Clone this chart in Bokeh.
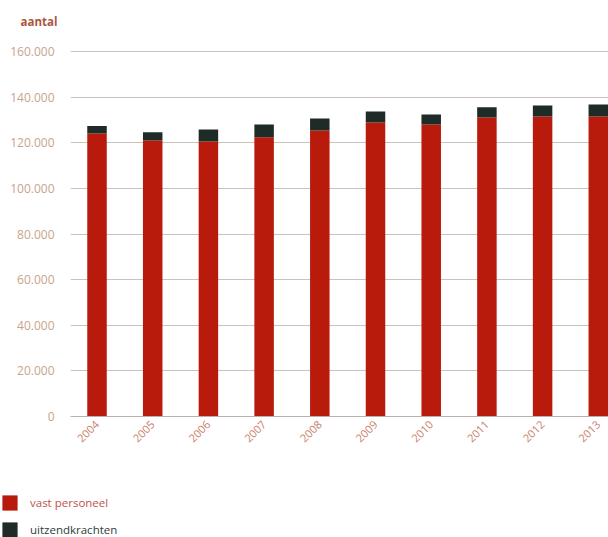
from bokeh.plotting import figure
from bokeh.models import ColumnDataSource, Range1d, FixedTicker, Legend, LegendItem
from bokeh.layouts import column, row
from bokeh.embed import file_html
from bokeh.resources import INLINE

years = ["2004", "2005", "2006", "2007", "2008", "2009", "2010", "2011", "2012", "2013"]
vast_personeel = [124100, 121000, 120600, 122400, 125400, 128900, 128000, 131100, 131500, 131500]
uitzendkrachten = [3200, 3600, 5200, 5600, 5200, 4800, 4400, 4500, 4800, 5300]
y_ticks = [0, 20000, 40000, 60000, 80000, 100000, 120000, 140000, 160000]
y_tick_labels = ["0", "20.000", "40.000", "60.000", "80.000", "100.000", "120.000", "140.000", "160.000"]
series_labels = ["vast personeel", "uitzendkrachten"]

RED = "#b81a0c"
DARK = "#1f2b27"
FONT = "Open Sans"

x = list(range(len(years)))
source = ColumnDataSource(dict(x=x, vast=vast_personeel, uitz=uitzendkrachten))

p = figure(width=608, height=480, output_backend="svg", toolbar_location=None,
           x_range=Range1d(-0.476, 9.183), y_range=Range1d(0, 165700),
           min_border_left=70, min_border_right=0, min_border_top=38, min_border_bottom=64,
           title="aantal")
p.outline_line_color = None

p.title.text_font = FONT
p.title.text_font_size = "11.5px"
p.title.text_font_style = "bold"
p.title.text_color = "#a9563f"
p.title.align = "left"
p.title.offset = -50
p.title.standoff = 20

renderers = p.vbar_stack(["vast", "uitz"], x="x", width=0.35, color=[RED, DARK],
                         source=source, line_color=None)

p.yaxis.ticker = FixedTicker(ticks=y_ticks)
p.yaxis.major_label_overrides = {t: l for t, l in zip(y_ticks, y_tick_labels)}
p.yaxis.axis_line_color = None
p.yaxis.major_tick_line_color = None
p.yaxis.minor_tick_line_color = None
p.yaxis.major_label_standoff = 10
p.yaxis.major_label_text_font = FONT
p.yaxis.major_label_text_font_size = "12px"
p.yaxis.major_label_text_color = "#c8a48c"

p.xaxis.ticker = FixedTicker(ticks=x)
p.xaxis.major_label_overrides = {i: y for i, y in zip(x, years)}
p.xaxis.axis_line_color = "#b8b2ac"
p.xaxis.major_tick_line_color = None
p.xaxis.minor_tick_line_color = None
p.xaxis.major_label_orientation = 0.785
p.xaxis.major_label_standoff = 0
p.xaxis.major_label_text_font = FONT
p.xaxis.major_label_text_font_size = "11px"
p.xaxis.major_label_text_color = "#c9806a"

p.xgrid.grid_line_color = None
p.ygrid.ticker = FixedTicker(ticks=y_ticks[1:])
p.ygrid.grid_line_color = "#cbc3bb"
p.ygrid.grid_line_width = 1

# legend panel below the chart (proxy renderers lie outside the visible range)
lg = figure(width=608, height=57, output_backend="svg", toolbar_location=None,
            x_range=Range1d(0, 1), y_range=Range1d(0, 1),
            x_axis_location=None, y_axis_location=None,
            min_border_left=0, min_border_right=0, min_border_top=0, min_border_bottom=0)
lg.grid.grid_line_color = None
lg.outline_line_color = None
proxy = ColumnDataSource(dict(x=[-5], top=[-5]))
r_red = lg.vbar(x="x", top="top", width=0.1, source=proxy, color=RED, line_color=None)
r_dark = lg.vbar(x="x", top="top", width=0.1, source=proxy, color=DARK, line_color=None)

leg1 = Legend(items=[LegendItem(label=series_labels[0], renderers=[r_red])],
              location=(0, 25), glyph_width=19, glyph_height=19, padding=0, margin=0,
              label_standoff=11, border_line_color=None, background_fill_alpha=0,
              label_text_font=FONT, label_text_font_size="11.5px", label_text_color="#c0524a")
leg2 = Legend(items=[LegendItem(label=series_labels[1], renderers=[r_dark])],
              location=(0, -2), glyph_width=19, glyph_height=19, padding=0, margin=0,
              label_standoff=11, border_line_color=None, background_fill_alpha=0,
              label_text_font=FONT, label_text_font_size="11.5px", label_text_color="#2f3d38")
lg.add_layout(leg1, "center")
lg.add_layout(leg2, "center")

layout = column(p, row(lg, spacing=0), spacing=0)
open("out.html", "w").write(file_html(layout, INLINE))
